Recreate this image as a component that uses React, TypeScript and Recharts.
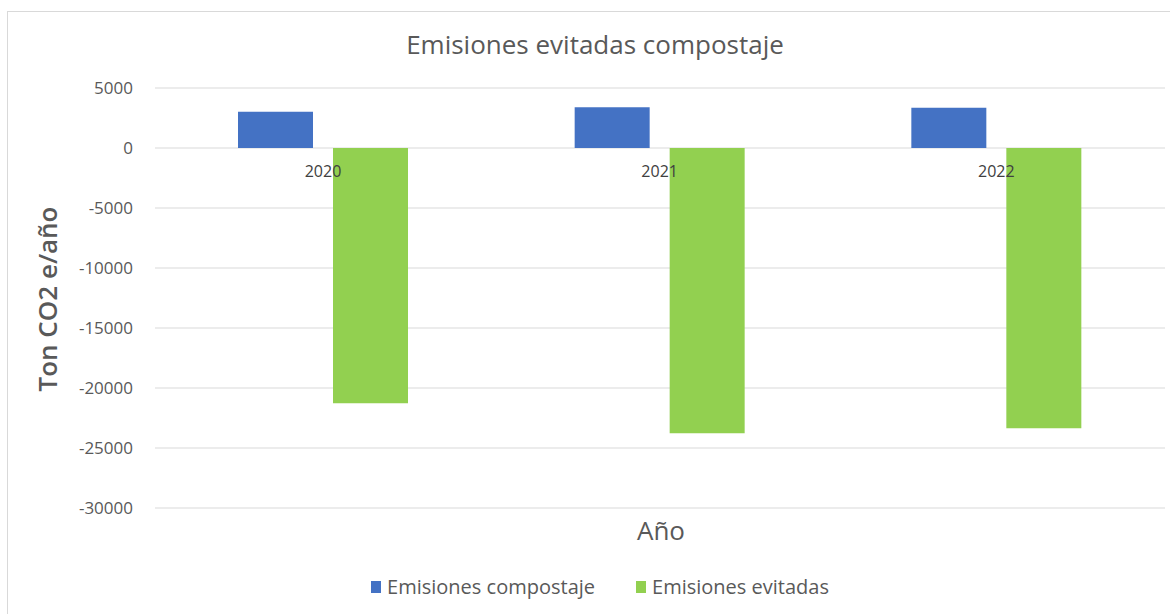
import { BarChart, Bar, XAxis, YAxis, CartesianGrid, Legend, LabelList } from "recharts";

const years = ["2020", "2021", "2022"];
const compostaje = [3020, 3390, 3350];
const evitadas = [-21270, -23770, -23350];
const yTicks = [5000, 0, -5000, -10000, -15000, -20000, -25000, -30000];

const data = years.map((year, i) => ({
  year,
  compostaje: compostaje[i],
  evitadas: evitadas[i],
}));

const FONT = "'Open Sans', 'Noto Sans', sans-serif";
const GREY = "#595959";
const BLUE = "#4472c4";
const GREEN = "#92d050";
const GAP = 20;

// year label sits just under the zero line, centred between the two bars
function YearLabel(props: any) {
  const { x, y, height, value } = props;
  const zeroY = Math.min(y, y + height);
  return (
    <text x={x - GAP / 2} y={zeroY + 29} textAnchor="middle" fontSize={16} fill="#404040" fontFamily={FONT}>
      {value}
    </text>
  );
}

function LegendContent() {
  const items = [
    { label: "Emisiones compostaje", color: BLUE },
    { label: "Emisiones evitadas", color: GREEN },
  ];
  return (
    <div style={{ display: "flex", justifyContent: "center", gap: 41, fontFamily: FONT, fontSize: 20, color: GREY, lineHeight: "24px" }}>
      {items.map((it) => (
        <div key={it.label} style={{ display: "flex", alignItems: "center", gap: 6 }}>
          <span style={{ width: 10, height: 12, background: it.color, display: "inline-block" }} />
          <span>{it.label}</span>
        </div>
      ))}
    </div>
  );
}

export default function App() {
  return (
    <div style={{ position: "absolute", left: 0, top: 0, width: 1170, height: 614, overflow: "hidden", background: "#fff" }}>
      <div style={{ position: "absolute", left: 7, top: 11, width: 1200, height: 700, border: "1px solid #d9d9d9" }} />
      <div style={{ position: "absolute", left: 0, top: 26, width: 1190, textAlign: "center", fontFamily: FONT, fontSize: 26, color: GREY }}>
        Emisiones evitadas compostaje
      </div>
      <div
        style={{
          position: "absolute",
          left: 47,
          top: 299,
          transform: "translate(-50%, -50%) rotate(-90deg)",
          whiteSpace: "nowrap",
          fontFamily: FONT,
          fontSize: 26,
          fontWeight: 600,
          color: GREY,
        }}
      >
        Ton CO2 e/año
      </div>
      <div style={{ position: "absolute", left: 0, top: 512, width: 1322, textAlign: "center", fontFamily: FONT, fontSize: 26, color: GREY }}>
        Año
      </div>
      <div style={{ position: "absolute", left: 0, top: 0 }}>
        <BarChart
          width={1170}
          height={614}
          data={data}
          margin={{ top: 88, right: 5, left: 0, bottom: 82 }}
          barGap={GAP}
          barSize={75}
        >
          <CartesianGrid vertical={false} stroke="#d9d9d9" />
          <XAxis dataKey="year" axisLine={false} tickLine={false} tick={false} height={0} />
          <YAxis
            width={155}
            domain={[-30000, 5000]}
            ticks={yTicks}
            interval={0}
            axisLine={false}
            tickLine={false}
            tickSize={0}
            tickMargin={22}
            tick={{ fontSize: 17, fill: GREY, fontFamily: FONT }}
          />
          <Legend verticalAlign="bottom" wrapperStyle={{ top: 575, left: 0, width: 1200 }} content={<LegendContent />} />
          <Bar dataKey="compostaje" name="Emisiones compostaje" fill={BLUE} isAnimationActive={false} />
          <Bar dataKey="evitadas" name="Emisiones evitadas" fill={GREEN} isAnimationActive={false}>
            <LabelList dataKey="year" content={<YearLabel />} />
          </Bar>
        </BarChart>
      </div>
    </div>
  );
}
